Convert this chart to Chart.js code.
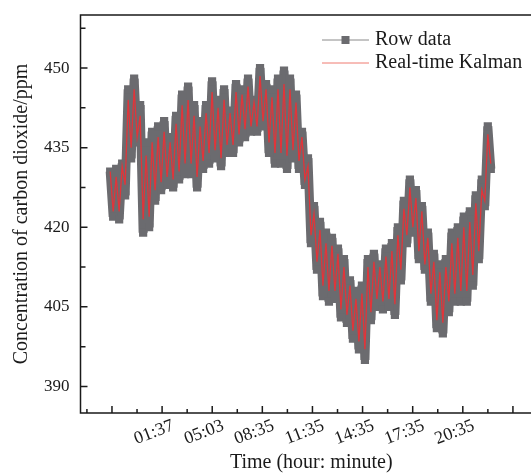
<!DOCTYPE html>
<html>
<head>
<meta charset="utf-8">
<script src="https://cdn.jsdelivr.net/npm/chart.js@4.4.0/dist/chart.umd.min.js"></script>
<style>
  html, body { margin: 0; padding: 0; background: #fff; overflow: hidden; }
  #wrap { width: 560px; height: 473px; }
</style>
</head>
<body>
<div id="wrap"><canvas id="myChart" width="560" height="473"></canvas></div>
<script>
// raw CO2 samples (ppm)
const rowData = [
  430.5, 422, 431, 421.5, 432, 426, 446, 433, 448, 436,
  443, 419, 436, 420, 438, 425, 439, 427, 440, 428,
  437, 427.5, 441, 429, 445, 430, 446.5, 430, 443, 427.5,
  440, 431, 443, 432, 447.5, 433, 444, 431.5, 446, 434,
  442, 434, 447, 436, 446, 437, 448, 438, 444, 438,
  450, 439, 447, 434, 446, 432, 448, 432, 449.5, 431,
  448, 433, 445, 431, 438, 428, 433, 417, 424, 412,
  421, 407, 419, 406, 418, 406.5, 416, 403, 414, 402,
  410, 399, 408, 397, 409, 395, 414, 402.5, 415, 405,
  413, 404.5, 416, 405, 417, 403.5, 420, 410, 425, 417,
  429, 419, 427, 414, 424, 412, 419, 406, 415, 401,
  413, 400, 414, 404, 419, 406, 420, 406, 422, 406,
  423, 409, 426, 414, 429, 424, 439, 431
];

// filtered values
const kalmanData = [
  430.5, 423, 429.5, 423, 431.5, 428, 444, 435, 446, 437,
  441, 421.5, 433.5, 422, 436, 427, 437, 428.5, 438, 429.5,
  436, 429, 439.5, 430.5, 443, 432, 444, 432, 441, 429.5,
  439, 432.5, 441.5, 434, 445.5, 434.5, 442.5, 433, 444, 435.5,
  441.5, 435.5, 445.5, 437.5, 445, 438.5, 446.5, 439, 443.5, 439,
  448.5, 440, 446, 436, 444.5, 434, 446, 434, 447, 433.5,
  446, 434.5, 443.5, 432.5, 437, 429, 431.5, 418.5, 422.5, 413.5,
  419.5, 409, 417, 408, 416.5, 408, 415, 404.5, 412.5, 403.5,
  409, 400.5, 406.5, 398.5, 407.5, 397, 412.5, 404, 413.5, 406.5,
  412.5, 406, 414.5, 406.5, 415.5, 405.5, 418.5, 412, 423.5, 418.5,
  427.5, 420, 425.5, 415.5, 423, 413, 418, 407.5, 413.5, 402.5,
  411.5, 402, 412.5, 406, 417, 407.5, 418, 408, 420, 408,
  421, 411, 424.5, 415.5, 427, 425, 437.5, 432
];

// sample grid along x (one unit = one major tick)
const sampleStart = -0.036;
const sampleStep = 0.0598;
const xMajor = [0, 1, 2, 3, 4, 5, 6, 7, 8];
const xLabels = ['', '01:37', '05:03', '08:35', '11:35', '14:35', '17:35', '20:35', ''];
const xMinor = [-0.5, 0.5, 1.5, 2.5, 3.5, 4.5, 5.5, 6.5, 7.5, 8.5];
const yMajor = [390, 405, 420, 435, 450];
const yMinor = [397.5, 412.5, 427.5, 442.5, 457.5];

const toPoints = arr => arr.map((v, i) => ({ x: sampleStart + i * sampleStep, y: v }));

const serif = '"Liberation Serif", "Times New Roman", serif';
const ink = '#1a1a1a';
const grey = '#6b6b6f';
const red = '#e0353a';

Chart.defaults.font.family = serif;
Chart.defaults.color = ink;

const noPad = s => { s.paddingTop = 0; s.paddingBottom = 0; s.paddingLeft = 0; s.paddingRight = 0; };

// frame + inward ticks like Origin, and the legend
const frameTicks = {
  id: 'frameTicks',
  afterDraw(chart) {
    const ctx = chart.ctx;
    const a = chart.chartArea;
    const xs = chart.scales.x, ys = chart.scales.y;
    ctx.save();
    ctx.strokeStyle = ink;
    ctx.lineWidth = 1.5;
    ctx.beginPath();
    ctx.moveTo(a.right, a.top); ctx.lineTo(a.left, a.top);
    ctx.lineTo(a.left, a.bottom); ctx.lineTo(a.right, a.bottom);
    ctx.stroke();
    ctx.beginPath();
    xMajor.forEach(v => {
      const px = xs.getPixelForValue(v);
      ctx.moveTo(px, a.bottom); ctx.lineTo(px, a.bottom - 7);
    });
    xMinor.forEach(v => {
      const px = xs.getPixelForValue(v);
      if (px > a.right) return;
      ctx.moveTo(px, a.bottom); ctx.lineTo(px, a.bottom - 4);
    });
    yMajor.forEach(v => {
      const py = ys.getPixelForValue(v);
      ctx.moveTo(a.left, py); ctx.lineTo(a.left + 7, py);
    });
    yMinor.forEach(v => {
      const py = ys.getPixelForValue(v);
      ctx.moveTo(a.left, py); ctx.lineTo(a.left + 5, py);
    });
    ctx.stroke();

    // legend
    const ds = chart.data.datasets;
    const lx = 322, lw = 47, rows = [40, 63];
    ctx.font = '20px ' + serif;
    ctx.textBaseline = 'middle';
    ctx.strokeStyle = '#8a8a8a';
    ctx.lineWidth = 1;
    ctx.beginPath(); ctx.moveTo(lx, rows[0]); ctx.lineTo(lx + lw, rows[0]); ctx.stroke();
    ctx.fillStyle = grey;
    ctx.fillRect(lx + lw / 2 - 4, rows[0] - 4, 8, 8);
    ctx.fillStyle = ink;
    ctx.fillText(ds[1].label, lx + lw + 6, rows[0]);
    ctx.strokeStyle = '#ef7b70';
    ctx.beginPath(); ctx.moveTo(lx, rows[1]); ctx.lineTo(lx + lw, rows[1]); ctx.stroke();
    ctx.fillText(ds[0].label, lx + lw + 6, rows[1]);
    ctx.restore();
  }
};

const ctx = document.getElementById('myChart').getContext('2d');
const myChart = new Chart(ctx, {
  type: 'line',
  data: {
    datasets: [{
      label: 'Real-time Kalman',
      data: toPoints(kalmanData),
      borderColor: red,
      borderWidth: 1.3,
      pointRadius: 0,
      tension: 0,
      order: 0
    }, {
      label: 'Row data',
      data: toPoints(rowData),
      borderColor: grey,
      borderWidth: 9,
      borderJoinStyle: 'bevel',
      backgroundColor: grey,
      pointStyle: 'rect',
      pointRadius: 5.8,
      pointBorderWidth: 0,
      tension: 0,
      order: 1
    }]
  },
  options: {
    responsive: false,
    animation: false,
    events: [],
    layout: { padding: { top: 15, right: 18, left: 0, bottom: 0 } },
    plugins: { legend: { display: false }, tooltip: { enabled: false } },
    scales: {
      x: {
        type: 'linear',
        min: -0.628,
        max: 8.58,
        afterFit: s => { s.height = 60; noPad(s); },
        afterBuildTicks: s => { s.ticks = xMajor.map(v => ({ value: v })); },
        grid: { display: false, drawTicks: false },
        border: { display: false },
        ticks: {
          autoSkip: false,
          minRotation: 21,
          maxRotation: 21,
          padding: 2,
          labelOffset: 11,
          color: ink,
          font: { size: 18 },
          callback: (v, i) => xLabels[i]
        },
        title: {
          display: true,
          text: 'Time (hour: minute)',
          color: ink,
          font: { size: 20 },
          padding: { top: 0, bottom: -2 }
        }
      },
      y: {
        min: 385,
        max: 460,
        afterFit: s => { s.width = 80.5; noPad(s); },
        afterBuildTicks: s => { s.ticks = yMajor.map(v => ({ value: v })); },
        grid: { display: false, drawTicks: false },
        border: { display: false },
        ticks: { padding: 11, color: ink, font: { size: 17 } },
        title: {
          display: true,
          text: 'Concentration of carbon dioxide/ppm',
          color: ink,
          font: { size: 20 },
          padding: { top: 10, bottom: 0 }
        }
      }
    }
  },
  plugins: [frameTicks]
});
</script>
</body>
</html>
